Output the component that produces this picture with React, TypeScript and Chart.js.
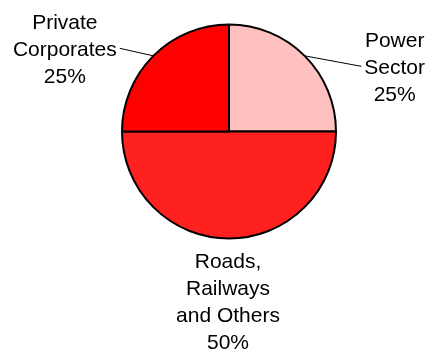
import React, { useEffect, useRef } from "react";
import { Chart, registerables } from "chart.js";

Chart.register(...registerables);

const categories: string[][] = [["Power", "Sector"], ["Roads,", "Railways", "and Others"], ["Private", "Corporates"]];
const values: number[] = [25, 50, 25];
const colors: string[] = ["#FFC0C0", "#FF2020", "#FF0000"];

// label placement relative to the slice's mid-angle anchor point on the rim
const labelStyles = [
  { dx: 90, dy: 10.5, leader: "left" },
  { dx: -1, dy: 62, leader: "none" },
  { dx: -88.5, dy: -7.5, leader: "right" },
];

const FONT_SIZE = 21;
const LINE_H = 27;

const labelPlugin = {
  id: "pieLabels",
  afterDatasetsDraw(chart: any) {
    const ctx = chart.ctx;
    const meta = chart.getDatasetMeta(0);
    const total = values.reduce((a, b) => a + b, 0);
    ctx.save();
    ctx.font = `${FONT_SIZE}px "Liberation Sans", Arial, sans-serif`;
    ctx.fillStyle = "#000";
    ctx.strokeStyle = "#000";
    ctx.lineWidth = 1;
    ctx.textAlign = "center";
    ctx.textBaseline = "alphabetic";
    meta.data.forEach((arc: any, i: number) => {
      const p = arc.getProps(["x", "y", "startAngle", "endAngle", "outerRadius"], true);
      const mid = (p.startAngle + p.endAngle) / 2;
      const ax = p.x + Math.cos(mid) * p.outerRadius;
      const ay = p.y + Math.sin(mid) * p.outerRadius;
      const st = labelStyles[i];
      const cx = ax + st.dx;
      const cy = ay + st.dy;
      const lines = [...categories[i], `${Math.round((values[i] / total) * 100)}%`];
      const n = lines.length;
      lines.forEach((t, k) => {
        const by = cy + (k - (n - 1) / 2) * LINE_H + 7.5;
        ctx.fillText(t, cx, by);
      });
      if (st.leader !== "none") {
        const midIdx = Math.floor((n - 1) / 2);
        const w = ctx.measureText(lines[midIdx]).width;
        const ly = cy + (midIdx - (n - 1) / 2) * LINE_H;
        const ex = st.leader === "left" ? cx - w / 2 - 3 : cx + w / 2 + 3;
        ctx.beginPath();
        ctx.moveTo(ax, ay);
        ctx.lineTo(ex, ly);
        ctx.stroke();
      }
    });
    ctx.restore();
  },
};

export default function App() {
  const ref = useRef<HTMLCanvasElement>(null);
  useEffect(() => {
    if (!ref.current) return;
    const chart = new Chart(ref.current, {
      type: "pie",
      data: {
        labels: categories.map((c) => c.join(" ")),
        datasets: [
          {
            data: values,
            backgroundColor: colors,
            borderColor: "#000",
            borderWidth: 2,
          },
        ],
      },
      options: {
        animation: false,
        responsive: false,
        layout: { padding: { top: 23.5, bottom: 111.5, left: 121, right: 92 } },
        plugins: { legend: { display: false }, tooltip: { enabled: false } },
      },
      plugins: [labelPlugin],
    });
    return () => chart.destroy();
  }, []);
  return (
    <div style={{ position: "fixed", left: 0, top: 0, width: 429, height: 351, background: "#fff" }}>
      <canvas ref={ref} width={429} height={351} style={{ width: 429, height: 351 }} />
    </div>
  );
}
